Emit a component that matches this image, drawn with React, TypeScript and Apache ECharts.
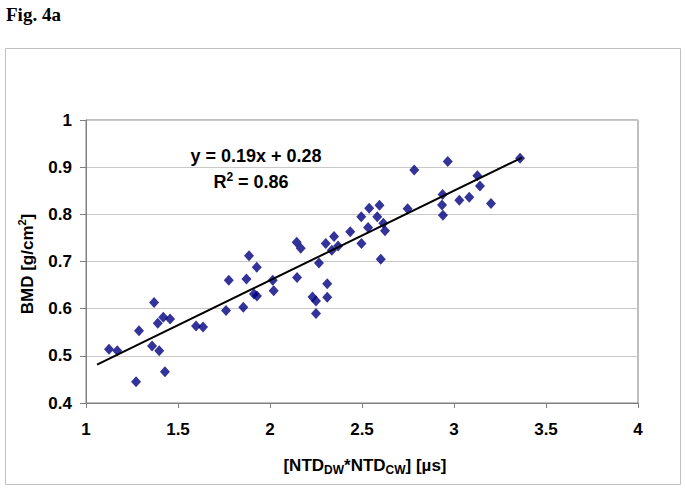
import React, { useEffect, useRef } from "react";
import * as echarts from "echarts";

const xValues = [
  1.125, 1.17, 1.272, 1.288, 1.359, 1.37, 1.39, 1.398, 1.42, 1.429, 1.457,
  1.598, 1.636, 1.761, 1.776, 1.855, 1.872, 1.886, 1.928, 1.913, 1.929,
  2.015, 2.02, 2.145, 2.167, 2.147, 2.231, 2.25, 2.25, 2.266, 2.303, 2.311,
  2.311, 2.336, 2.348, 2.37, 2.436, 2.496, 2.497, 2.533, 2.539, 2.583, 2.595,
  2.616, 2.625, 2.602, 2.748, 2.784, 2.938, 2.935, 2.94, 2.966, 3.029, 3.083,
  3.127, 3.141, 3.201, 3.359,
];
const yValues = [
  0.514, 0.511, 0.445, 0.553, 0.521, 0.613, 0.569, 0.511, 0.582, 0.466, 0.578,
  0.563, 0.561, 0.596, 0.66, 0.603, 0.663, 0.712, 0.688, 0.631, 0.627,
  0.66, 0.638, 0.741, 0.728, 0.666, 0.625, 0.616, 0.59, 0.697, 0.738, 0.653,
  0.624, 0.724, 0.753, 0.733, 0.763, 0.795, 0.738, 0.772, 0.813, 0.795, 0.819,
  0.781, 0.765, 0.705, 0.812, 0.894, 0.842, 0.82, 0.798, 0.912, 0.83, 0.836,
  0.882, 0.86, 0.823, 0.919,
];
const trendSlope = 0.19;
const trendIntercept = 0.28;
const trendXRange = [1.06, 3.37];
const equationText = "y = 0.19x + 0.28";
const r2Value = "0.86";

const FONT = "'Liberation Sans', Arial, sans-serif";

export default function App() {
  const ref = useRef<HTMLDivElement>(null);
  useEffect(() => {
    if (!ref.current) return;
    const chart = echarts.init(ref.current, undefined, { renderer: "svg" });
    const points = xValues.map((x, i) => [x, yValues[i]]);
    const trend = trendXRange.map((x) => [x, trendSlope * x + trendIntercept]);
    chart.setOption({
      animation: false,
      backgroundColor: "#ffffff",
      grid: {
        left: 86,
        top: 120,
        width: 552,
        height: 283,
        show: true,
        borderColor: "#808080",
        borderWidth: 1,
      },
      xAxis: {
        type: "value",
        min: 1,
        max: 4,
        interval: 0.5,
        axisLine: { show: true, onZero: false, lineStyle: { color: "#808080", width: 1 } },
        axisTick: { show: true, length: 5, lineStyle: { color: "#808080" } },
        splitLine: { show: false },
        axisLabel: { color: "#000", fontSize: 17, fontWeight: "bold", fontFamily: FONT, margin: 18 },
      },
      yAxis: {
        type: "value",
        min: 0.4,
        max: 1,
        interval: 0.1,
        axisLine: { show: true, onZero: false, lineStyle: { color: "#808080", width: 1 } },
        axisTick: { show: true, length: 6, lineStyle: { color: "#808080" } },
        splitLine: { show: true, lineStyle: { color: "#c8c8c8", width: 1 } },
        axisLabel: { color: "#000", fontSize: 17, fontWeight: "bold", fontFamily: FONT, margin: 14 },
      },
      series: [
        {
          type: "scatter",
          data: points,
          symbol: "diamond",
          symbolSize: [10, 11],
          itemStyle: { color: "#000080" },
          z: 3,
        },
        {
          type: "line",
          data: trend,
          symbol: "none",
          lineStyle: { color: "#000000", width: 2 },
          z: 4,
        },
      ],
      graphic: [
        {
          type: "rect",
          shape: { x: 5.5, y: 48.5, width: 675, height: 436 },
          style: { fill: "none", stroke: "#c0c0c0", lineWidth: 1 },
          z: -1,
        },
        {
          type: "text",
          x: 6,
          y: 14,
          style: {
            text: "Fig. 4a",
            fill: "#000",
            font: "bold 19px 'Liberation Serif', 'Times New Roman', serif",
            verticalAlign: "middle",
          },
        },
        {
          type: "text",
          x: 256,
          y: 156,
          style: {
            text: equationText,
            fill: "#000",
            font: `bold 18px ${FONT}`,
            align: "center",
            verticalAlign: "middle",
          },
          z: 10,
        },
        {
          type: "text",
          x: 251,
          y: 182,
          style: {
            text: `R{sup|2} = ${r2Value}`,
            fill: "#000",
            fontSize: 18,
            fontWeight: "bold",
            fontFamily: FONT,
            align: "center",
            verticalAlign: "middle",
            lineHeight: 22,
            rich: {
              sup: { fontSize: 12, fontWeight: "bold", fontFamily: FONT, verticalAlign: "top", lineHeight: 12 },
            },
          },
          z: 10,
        },
        {
          type: "text",
          x: 27,
          y: 264,
          rotation: Math.PI / 2,
          style: {
            text: "BMD [g/cm{sup|2}]",
            fill: "#000",
            fontSize: 17,
            fontWeight: "bold",
            fontFamily: FONT,
            align: "center",
            verticalAlign: "middle",
            lineHeight: 22,
            rich: {
              sup: { fontSize: 11, fontWeight: "bold", fontFamily: FONT, verticalAlign: "top", lineHeight: 12 },
            },
          },
        },
        {
          type: "text",
          x: 365,
          y: 465,
          style: {
            text: "[NTD{sub|DW}*NTD{sub|CW}] [µs]",
            fill: "#000",
            fontSize: 17,
            fontWeight: "bold",
            fontFamily: FONT,
            align: "center",
            verticalAlign: "middle",
            lineHeight: 22,
            rich: {
              sub: { fontSize: 12, fontWeight: "bold", fontFamily: FONT, verticalAlign: "bottom", lineHeight: 12 },
            },
          },
        },
      ],
    });
    return () => chart.dispose();
  }, []);
  return (
    <div
      ref={ref}
      style={{ position: "fixed", left: 0, top: 0, width: 685, height: 491, background: "#fff" }}
    />
  );
}
